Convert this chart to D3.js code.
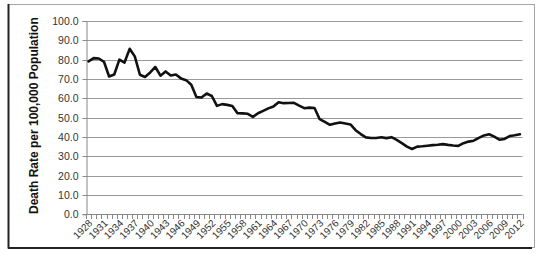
<!DOCTYPE html>
<html>
<head>
<meta charset="utf-8">
<script src="https://cdn.jsdelivr.net/npm/d3@7"></script>
<style>
  html, body { margin: 0; padding: 0; background: #fff; }
  svg { display: block; font-family: "Liberation Sans", Arial, sans-serif; }
</style>
</head>
<body>
<div id="viz"></div>
<script>
// death rate per 100,000, one value per year 1928..2012
const years = d3.range(1928, 2013);
const rates = [
  79.1, 80.8, 80.6, 78.9, 71.3, 72.3, 80.0, 78.5, 85.6, 81.7,
  72.2, 71.0, 73.4, 76.2, 71.7, 73.9, 71.8, 72.3, 70.3, 69.4,
  67.0, 60.7, 60.4, 62.5, 61.2, 56.1, 57.0, 56.6, 56.0, 52.3,
  52.2, 52.0, 50.4, 52.3, 53.5, 54.8, 55.8, 58.0, 57.5, 57.6,
  57.7, 56.2, 54.9, 55.2, 55.0, 49.2, 47.8, 46.3, 47.0, 47.5,
  47.0, 46.5, 43.5, 41.5, 39.8, 39.5, 39.5, 39.9, 39.4, 39.9,
  38.5, 36.8, 35.0, 33.8, 35.0, 35.2, 35.5, 35.8, 36.0, 36.3,
  35.9, 35.6, 35.4, 36.8, 37.6, 38.1, 39.5, 40.8, 41.4, 40.2,
  38.6, 39.0, 40.5, 40.9, 41.4
];
const yTicks = d3.range(0, 101, 10);
const xLabelYears = years.filter(y => (y - 1928) % 3 === 0);
const yTitle = 'Death Rate per 100,000 Population';

const W = 542, H = 254;
const plot = { left: 86, right: 522.5, top: 21, bottom: 214.3 };

const svg = d3.select('#viz').append('svg').attr('width', W).attr('height', H);

// chart frame: light top/right, dark left/bottom
svg.append('rect').attr('x', 8.5).attr('y', 4.5).attr('width', 526).attr('height', 243)
  .attr('fill', '#fff').attr('stroke', '#a6a6a6').attr('stroke-width', 1);
svg.append('line').attr('x1', 8.5).attr('x2', 8.5).attr('y1', 4).attr('y2', 248.5)
  .attr('stroke', '#222').attr('stroke-width', 2);
svg.append('line').attr('x1', 8).attr('x2', 532).attr('y1', 248).attr('y2', 248)
  .attr('stroke', '#222').attr('stroke-width', 2);

const x = d3.scalePoint().domain(years).range([plot.left, plot.right]).padding(0.5);
const step = x.step();
const y = d3.scaleLinear().domain([0, 100]).range([plot.bottom, plot.top]);

// gridlines
svg.append('g').selectAll('line').data(yTicks.filter(d => d > 0)).join('line')
  .attr('x1', plot.left).attr('x2', plot.right)
  .attr('y1', d => Math.round(y(d)) + 0.5).attr('y2', d => Math.round(y(d)) + 0.5)
  .attr('stroke', '#9a9a9a').attr('stroke-width', 1);

// y axis
const yAxis = svg.append('g').attr('transform', `translate(${plot.left + 0.5},0)`)
  .call(d3.axisLeft(y).tickValues(yTicks).tickSize(4).tickFormat(d3.format('.1f')));
yAxis.select('.domain').attr('stroke', '#888');
yAxis.selectAll('.tick line').attr('stroke', '#888');
yAxis.selectAll('.tick').attr('transform', d => `translate(0,${Math.round(y(d)) + 0.5})`);
yAxis.selectAll('text').attr('x', -8).attr('font-size', 10.5).attr('fill', '#333')
  .attr('font-family', '"Liberation Sans", Arial, sans-serif');

// x axis: baseline, a tick at each category boundary, labels every 3 years
const xg = svg.append('g');
xg.append('line').attr('x1', plot.left).attr('x2', plot.right)
  .attr('y1', Math.round(plot.bottom) + 0.5).attr('y2', Math.round(plot.bottom) + 0.5)
  .attr('stroke', '#888');
xg.selectAll('line.tk').data(d3.range(years.length + 1)).join('line').attr('class', 'tk')
  .attr('x1', i => Math.round(plot.left + i * step) + 0.5)
  .attr('x2', i => Math.round(plot.left + i * step) + 0.5)
  .attr('y1', Math.round(plot.bottom)).attr('y2', Math.round(plot.bottom) + 5)
  .attr('stroke', '#888');
xg.selectAll('text').data(xLabelYears).join('text')
  .attr('transform', d => `translate(${x(d) + 2},${plot.bottom + 7}) rotate(-45)`)
  .attr('text-anchor', 'end').attr('dy', '0.35em')
  .attr('font-size', 10).attr('fill', '#333')
  .text(d => d);

// y title
svg.append('text')
  .attr('transform', `translate(38,${(plot.top + plot.bottom) / 2 - 2}) rotate(-90)`)
  .attr('text-anchor', 'middle')
  .attr('font-size', 12).attr('font-weight', 'bold').attr('fill', '#111')
  .text(yTitle);

// series line
const line = d3.line().x((d, i) => x(years[i])).y(d => y(d));
svg.append('path').datum(rates)
  .attr('fill', 'none').attr('stroke', '#111').attr('stroke-width', 2.6)
  .attr('stroke-linejoin', 'round').attr('stroke-linecap', 'round')
  .attr('d', line);
</script>
</body>
</html>
